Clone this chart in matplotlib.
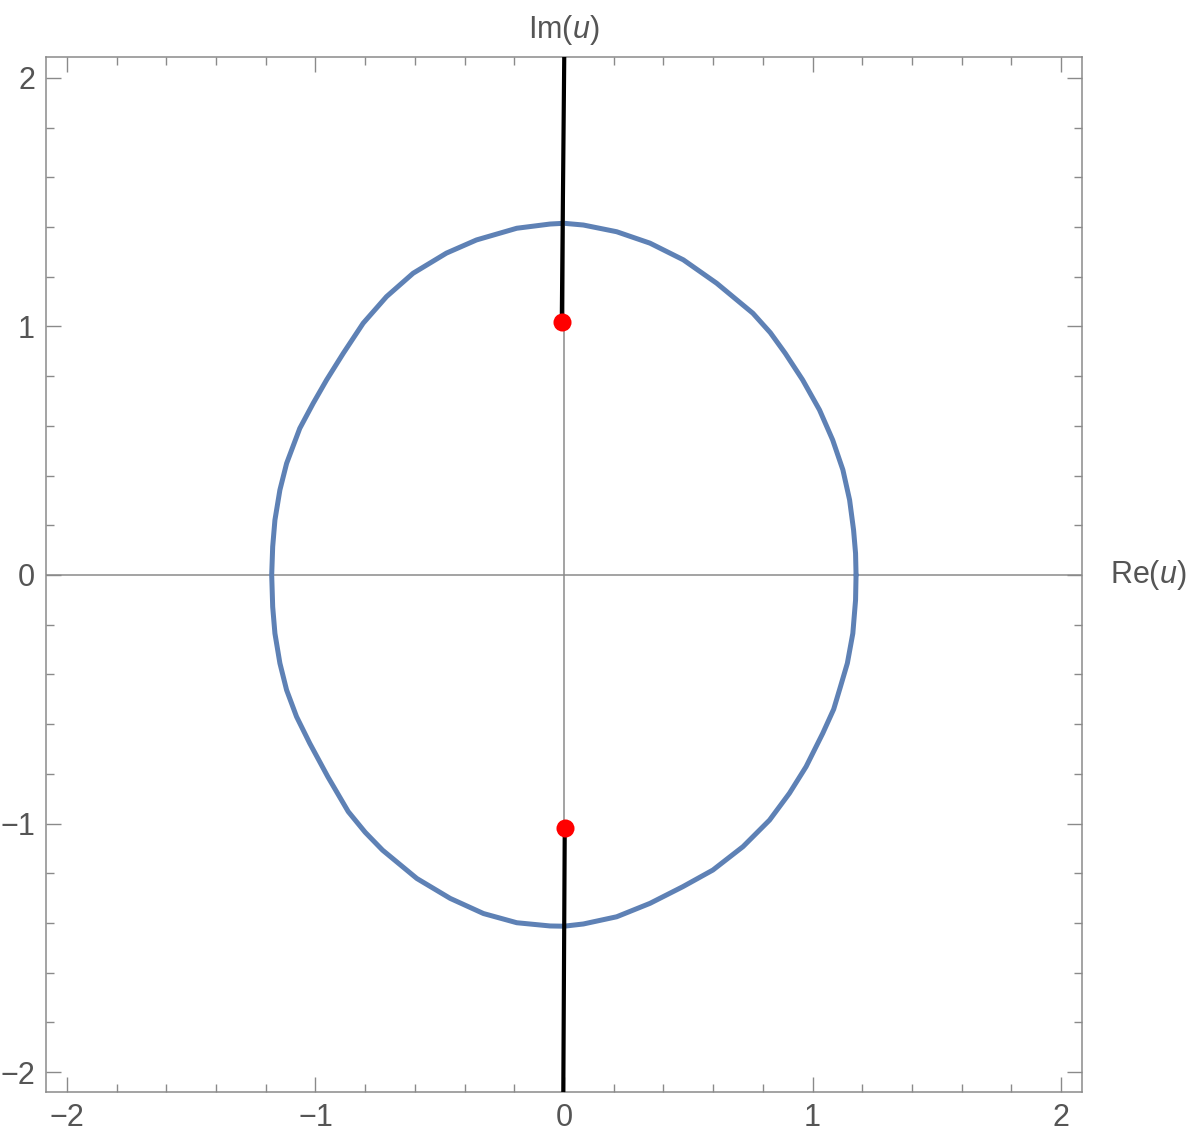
import numpy as np
import matplotlib
matplotlib.use('Agg')
import matplotlib.pyplot as plt
from matplotlib.ticker import MultipleLocator

plt.rcParams['font.family'] = ['Liberation Sans', 'DejaVu Sans']
plt.rcParams['mathtext.fontset'] = 'custom'
plt.rcParams['mathtext.rm'] = 'Liberation Sans'
plt.rcParams['mathtext.it'] = 'Liberation Sans:italic'

# closed curve (Re, Im), anticlockwise from the right-hand crossing
curve_re = [1.175, 1.173, 1.165, 1.149, 1.122, 1.081, 1.028, 0.960, 0.890, 0.830, 0.760, 0.614, 0.480,
            0.346, 0.212, 0.078, 0.0, -0.056, -0.190, -0.352, -0.473, -0.607, -0.714, -0.808, -0.888,
            -0.955, -1.009, -1.063, -1.116, -1.143, -1.163, -1.172, -1.176,
            -1.172, -1.163, -1.143, -1.116, -1.076, -1.023, -0.950, -0.868, -0.800, -0.730, -0.592, -0.458,
            -0.324, -0.190, -0.056, 0.0, 0.078, 0.212, 0.346, 0.478, 0.599, 0.720, 0.827, 0.907,
            0.974, 1.041, 1.085, 1.112, 1.140, 1.162, 1.173, 1.175]
curve_im = [0.0, 0.087, 0.181, 0.302, 0.423, 0.543, 0.664, 0.785, 0.892, 0.975, 1.053, 1.174, 1.268,
            1.335, 1.381, 1.408, 1.415, 1.412, 1.395, 1.348, 1.295, 1.214, 1.120, 1.013, 0.892,
            0.785, 0.691, 0.590, 0.449, 0.342, 0.221, 0.114, 0.0,
            -0.128, -0.235, -0.355, -0.463, -0.570, -0.677, -0.812, -0.952, -1.035, -1.107, -1.221, -1.301,
            -1.362, -1.399, -1.412, -1.413, -1.404, -1.375, -1.321, -1.254, -1.187, -1.093, -0.986, -0.878,
            -0.771, -0.637, -0.540, -0.450, -0.355, -0.235, -0.101, 0.0]

# branch cuts (black) and branch points (red)
cut_top_re = [0.003, -0.009]
cut_top_im = [2.3, 1.017]
cut_bot_re = [0.003, -0.004]
cut_bot_im = [-1.019, -2.3]
pts_re = [-0.009, 0.003]
pts_im = [1.017, -1.019]

fig = plt.figure(figsize=(11.89, 11.39), dpi=100)
ax = fig.add_axes([46/1189, 1 - 1092/1139, (1082-46)/1189, (1092-57)/1139])

ax.axhline(0, color='#8a8a8a', lw=1.1, zorder=1)
ax.axvline(0, color='#8a8a8a', lw=1.1, zorder=1)

ax.plot(curve_re, curve_im, color='#5E81B5', lw=3.6, solid_joinstyle='round',
        solid_capstyle='round', zorder=2)
ax.plot(cut_top_re, cut_top_im, color='black', lw=3.0, zorder=3)
ax.plot(cut_bot_re, cut_bot_im, color='black', lw=3.0, zorder=3)
ax.plot(pts_re, pts_im, 'o', color='red', ms=13, mec='none', zorder=4)

ax.set_xlim(-2.084, 2.084)
ax.set_ylim(-2.08, 2.084)

ax.xaxis.set_major_locator(MultipleLocator(1))
ax.xaxis.set_minor_locator(MultipleLocator(0.2))
ax.yaxis.set_major_locator(MultipleLocator(1))
ax.yaxis.set_minor_locator(MultipleLocator(0.2))
ax.tick_params(which='both', direction='in', top=True, right=True, color='#8a8a8a', width=1.0)
ax.tick_params(which='major', length=11, labelsize=22, labelcolor='#555555', pad=8)
ax.tick_params(which='minor', length=6)
for s in ax.spines.values():
    s.set_color('#8a8a8a')
    s.set_linewidth(1.1)

ax.text(0, 1.01, r'$\mathrm{Im}(u)$', transform=ax.get_xaxis_transform(), ha='center', va='bottom',
        fontsize=22, color='#555555')
ax.text(1.027, 0, r'$\mathrm{Re}(u)$', transform=ax.get_yaxis_transform(), ha='left', va='center',
        fontsize=22, color='#555555')

fig.savefig('out.png', dpi=100)
